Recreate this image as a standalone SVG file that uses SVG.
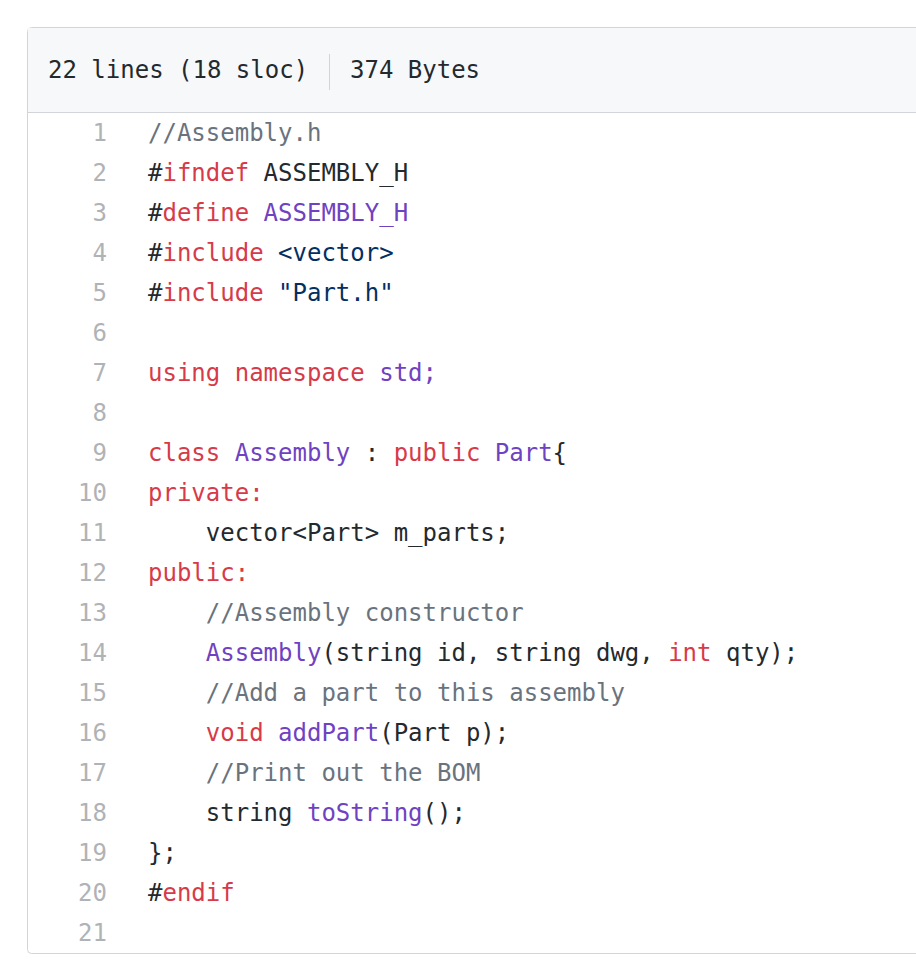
<svg xmlns="http://www.w3.org/2000/svg" width="916" height="980" viewBox="0 0 916 980">
<style>
text{font-family:"DejaVu Sans Mono","Liberation Mono",monospace;font-size:24px;fill:#24292e;white-space:pre}
.n{fill:#b0b3b6;text-anchor:end}
.c{fill:#6a737d}.k{fill:#d73a49}.p{fill:#6f42c1}.s{fill:#032f62}
</style>
<rect width="916" height="980" fill="#fff"/>
<g id="box">
<rect x="27.5" y="27.5" width="920" height="926" rx="4" fill="#fff" stroke="#d1d5da"/>
<path d="M28 28h900v84H28z" fill="#f6f8fa"/>
<line x1="28" y1="112.5" x2="916" y2="112.5" stroke="#d1d5da"/>
<line x1="329.5" y1="54" x2="329.5" y2="90" stroke="#d1d5da"/>
<text x="48" y="78">22 lines (18 sloc)</text>
<text x="350" y="78">374 Bytes</text>
</g>
<g id="nums">
<text class="n" x="107" y="141">1</text><text class="n" x="107" y="181">2</text><text class="n" x="107" y="221">3</text><text class="n" x="107" y="261">4</text><text class="n" x="107" y="301">5</text><text class="n" x="107" y="341">6</text><text class="n" x="107" y="381">7</text><text class="n" x="107" y="421">8</text><text class="n" x="107" y="461">9</text><text class="n" x="107" y="501">10</text><text class="n" x="107" y="541">11</text><text class="n" x="107" y="581">12</text><text class="n" x="107" y="621">13</text><text class="n" x="107" y="661">14</text><text class="n" x="107" y="701">15</text><text class="n" x="107" y="741">16</text><text class="n" x="107" y="781">17</text><text class="n" x="107" y="821">18</text><text class="n" x="107" y="861">19</text><text class="n" x="107" y="901">20</text><text class="n" x="107" y="941">21</text>
</g>
<g id="code">
<text x="148" y="141" class="c">//Assembly.h</text>
<text x="148" y="181">#<tspan class="k">ifndef</tspan> ASSEMBLY_H</text>
<text x="148" y="221">#<tspan class="k">define</tspan> <tspan class="p">ASSEMBLY_H</tspan></text>
<text x="148" y="261">#<tspan class="k">include</tspan> <tspan class="s">&lt;vector&gt;</tspan></text>
<text x="148" y="301">#<tspan class="k">include</tspan> <tspan class="s">"Part.h"</tspan></text>
<text x="148" y="381"><tspan class="k">using</tspan> <tspan class="k">namespace</tspan> <tspan class="p">std;</tspan></text>
<text x="148" y="461"><tspan class="k">class</tspan> <tspan class="p">Assembly</tspan> : <tspan class="k">public</tspan> <tspan class="p">Part</tspan>{</text>
<text x="148" y="501" class="k">private:</text>
<text x="148" y="541">    vector&lt;Part&gt; m_parts;</text>
<text x="148" y="581" class="k">public:</text>
<text x="148" y="621" class="c">    //Assembly constructor</text>
<text x="148" y="661">    <tspan class="p">Assembly</tspan>(string id, string dwg, <tspan class="k">int</tspan> qty);</text>
<text x="148" y="701" class="c">    //Add a part to this assembly</text>
<text x="148" y="741">    <tspan class="k">void</tspan> <tspan class="p">addPart</tspan>(Part p);</text>
<text x="148" y="781" class="c">    //Print out the BOM</text>
<text x="148" y="821">    string <tspan class="p">toString</tspan>();</text>
<text x="148" y="861">};</text>
<text x="148" y="901">#<tspan class="k">endif</tspan></text>
</g>
</svg>
